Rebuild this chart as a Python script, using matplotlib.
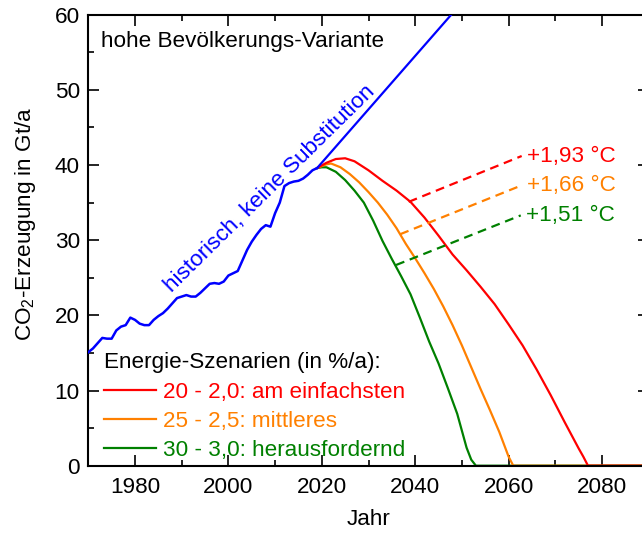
import matplotlib
matplotlib.use("Agg")
import matplotlib.pyplot as plt
from matplotlib.ticker import MultipleLocator
from matplotlib.lines import Line2D

plt.rcParams['font.family'] = ['Liberation Sans', 'DejaVu Sans']
plt.rcParams['mathtext.fontset'] = 'custom'
plt.rcParams['mathtext.rm'] = 'Liberation Sans'
plt.rcParams['mathtext.default'] = 'regular'

# ---------------- data ----------------
hist_years = list(range(1970, 2020))
hist_values = [15.1, 15.6, 16.3, 17.0, 16.9, 16.9, 18.0, 18.5, 18.7, 19.7,
               19.4, 18.9, 18.7, 18.7, 19.4, 19.9, 20.3, 20.9, 21.6, 22.3,
               22.5, 22.7, 22.5, 22.5, 23.0, 23.6, 24.2, 24.3, 24.2, 24.5,
               25.3, 25.6, 25.9, 27.3, 28.7, 29.8, 30.7, 31.5, 32.0, 31.8,
               33.6, 35.0, 37.2, 37.6, 37.8, 37.9, 38.2, 38.7, 39.3, 39.6]

ext_years = [2019, 2048]
ext_values = [39.6, 60.2]

red_years = [2019, 2021, 2023, 2025, 2027, 2030, 2033, 2036, 2039, 2042, 2045,
             2048, 2051, 2054, 2057, 2060, 2063, 2066, 2069, 2072, 2075, 2076,
             2077, 2090]
red_values = [39.6, 40.3, 40.8, 40.9, 40.5, 39.3, 37.9, 36.6, 35.1, 33.0, 30.6,
              28.1, 26.0, 23.8, 21.5, 18.8, 16.0, 12.8, 9.4, 5.8, 2.3, 1.2,
              0.0, 0.0]

orange_years = [2019, 2021, 2022, 2024, 2026, 2028, 2030, 2032, 2034, 2036,
                2038, 2040, 2042, 2044, 2046, 2048, 2050, 2052, 2054, 2056,
                2058, 2060, 2061, 2090]
orange_values = [39.6, 40.1, 40.2, 39.7, 38.8, 37.7, 36.4, 35.0, 33.4, 31.6,
                 29.5, 27.6, 25.6, 23.5, 21.2, 18.7, 16.0, 13.1, 10.2, 7.4,
                 4.5, 1.2, 0.0, 0.0]

green_years = [2019, 2020, 2021, 2023, 2025, 2027, 2029, 2031, 2033, 2035,
               2037, 2039, 2041, 2043, 2045, 2047, 2049, 2051, 2052, 2053, 2090]
green_values = [39.6, 39.7, 39.7, 39.1, 38.0, 36.6, 35.0, 32.6, 29.9, 27.5,
                25.2, 22.8, 19.7, 16.5, 13.6, 10.3, 6.9, 2.4, 0.8, 0.0, 0.0]

scenario_labels = ["20 - 2,0: am einfachsten", "25 - 2,5: mittleres",
                   "30 - 3,0: herausfordernd"]
temp_labels = ["+1,93 °C", "+1,66 °C", "+1,51 °C"]
dash_x0 = [2038.6, 2036.8, 2035.9]
dash_y0 = [35.1, 30.8, 26.7]
dash_x1 = [2062.8, 2062.8, 2062.6]
dash_y1 = [41.2, 37.3, 33.3]

colors = ['#FF0000', '#FF8000', '#008000']
blue = '#0000FF'

# ---------------- figure ----------------
fig = plt.figure(figsize=(6.42, 5.33), dpi=100)
ax = fig.add_axes([88.3 / 642, (533 - 465.7) / 533, 560.4 / 642, 451 / 533])

FS = 16.2
series = [(green_years, green_values, colors[2]),
          (orange_years, orange_values, colors[1]),
          (red_years, red_values, colors[0])]
for yrs, vals, c in series:
    ax.plot(yrs, vals, color=c, lw=1.6, zorder=2)

for i in range(3):
    ax.plot([dash_x0[i], dash_x1[i]], [dash_y0[i], dash_y1[i]], color=colors[i],
            lw=1.6, ls=(0, (4, 2.6)), zorder=2)
    ax.text(dash_x1[i] + 1.2, dash_y1[i], temp_labels[i], color=colors[i],
            fontsize=FS, va='center', ha='left')

ax.plot(hist_years, hist_values, color=blue, lw=1.8, zorder=3)
ax.plot(ext_years, ext_values, color=blue, lw=1.6, zorder=3)

ax.text(2009.0, 36.8, "historisch, keine Substitution", color=blue,
        fontsize=FS, rotation=44.5, rotation_mode='anchor', ha='center',
        va='center')
ax.text(0.0227, 0.9395, "hohe Bevölkerungs-Variante", transform=ax.transAxes,
        fontsize=FS, ha='left', va='center')

ax.set_xlim(1970, 2090)
ax.set_ylim(0, 60)
ax.xaxis.set_major_locator(MultipleLocator(20))
ax.xaxis.set_minor_locator(MultipleLocator(10))
ax.yaxis.set_major_locator(MultipleLocator(10))
ax.yaxis.set_minor_locator(MultipleLocator(5))
ax.tick_params(which='both', direction='in', top=True, right=True,
               labelsize=FS, width=1.2)
ax.tick_params(which='major', length=8)
ax.tick_params(which='minor', length=4)
ax.tick_params(axis='x', pad=8)
ax.tick_params(axis='y', pad=6)
for s in ax.spines.values():
    s.set_linewidth(1.5)

ax.set_xlabel("Jahr", fontsize=FS, labelpad=8)
ax.set_ylabel("CO$_2$-Erzeugung in Gt/a", fontsize=FS)
ax.yaxis.set_label_coords(-0.0898, 0.536)

handles = [Line2D([], [], color=c, lw=1.6) for c in colors]
leg = ax.legend(handles, scenario_labels, loc='upper left',
                bbox_to_anchor=(0.0152, 0.266), frameon=False, fontsize=FS,
                title="Energie-Szenarien (in %/a):", title_fontsize=FS,
                labelcolor=colors, handlelength=2.33, handletextpad=0.31,
                labelspacing=0.36, borderpad=0.3, borderaxespad=0.0)
leg._legend_box.align = "left"

fig.savefig("out.png", dpi=100)
